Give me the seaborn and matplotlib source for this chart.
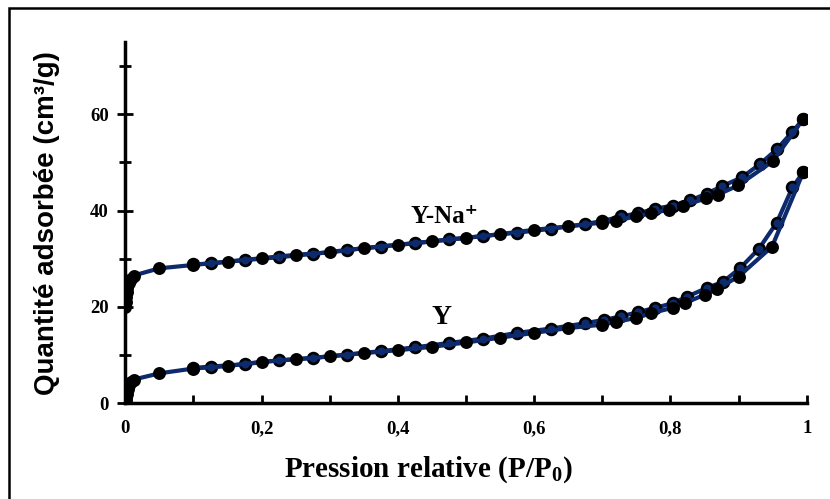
import numpy as np
import matplotlib
matplotlib.use("Agg")
import matplotlib.pyplot as plt
import seaborn as sns
from matplotlib.patches import Rectangle

# Y-Na+ : adsorption (filled) / desorption (open)
ads_na_x = [0, 0.0005, 0.001, 0.002, 0.003, 0.005, 0.008, 0.012, 0.05, 0.10, 0.15, 0.20,
            0.25, 0.30, 0.35, 0.40, 0.45, 0.50, 0.55, 0.60, 0.65, 0.70, 0.72, 0.75, 0.772,
            0.798, 0.818, 0.852, 0.87, 0.899, 0.95, 0.995]
ads_na_y = [20.0, 21.0, 22.0, 23.0, 24.0, 25.0, 25.8, 26.5, 28.0, 28.7, 29.4, 30.1,
            30.8, 31.3, 32.2, 32.9, 33.6, 34.3, 35.1, 36.0, 36.7, 37.5, 37.9, 38.8, 39.4,
            40.2, 41.0, 42.5, 43.3, 45.2, 50.2, 59.0]
des_na_x = [0.995, 0.978, 0.956, 0.931, 0.905, 0.875, 0.853, 0.829, 0.803, 0.778, 0.752,
            0.728, 0.70, 0.675, 0.625, 0.575, 0.525, 0.475, 0.425, 0.375, 0.325, 0.275,
            0.225, 0.175, 0.125, 0.10]
des_na_y = [59.0, 56.2, 52.7, 49.6, 46.9, 45.0, 43.5, 42.1, 41.0, 40.4, 39.4,
            38.8, 37.8, 37.2, 36.2, 35.4, 34.7, 34.0, 33.2, 32.5, 31.8, 31.0,
            30.3, 29.7, 29.0, 28.8]

# Y : adsorption (filled) / desorption (open)
ads_y_x = [0, 0.0005, 0.001, 0.002, 0.004, 0.006, 0.009, 0.012, 0.05, 0.10, 0.15, 0.20,
           0.25, 0.30, 0.35, 0.40, 0.45, 0.50, 0.55, 0.60, 0.65, 0.70, 0.72, 0.75, 0.772,
           0.803, 0.821, 0.85, 0.868, 0.90, 0.949, 0.995]
ads_y_y = [0.0, 0.6, 1.2, 2.0, 2.9, 3.7, 4.4, 4.9, 6.2, 7.2, 7.7, 8.6,
           9.1, 9.7, 10.4, 11.0, 11.7, 12.6, 13.6, 14.6, 15.6, 16.3, 16.9, 17.7, 18.7,
           19.8, 20.8, 22.5, 23.7, 26.3, 32.5, 48.0]
des_y_x = [0.995, 0.979, 0.956, 0.930, 0.902, 0.877, 0.853, 0.824, 0.804, 0.778, 0.752,
           0.727, 0.702, 0.675, 0.625, 0.575, 0.525, 0.475, 0.425, 0.375, 0.325, 0.275,
           0.225, 0.175, 0.125, 0.10]
des_y_y = [48.0, 44.8, 37.5, 32.1, 28.0, 25.2, 23.9, 22.1, 20.8, 19.8, 18.9,
           18.0, 17.3, 16.6, 15.5, 14.6, 13.4, 12.5, 11.6, 10.8, 10.1, 9.4,
           8.9, 8.1, 7.6, 7.3]

x_ticks = [0, 0.1, 0.2, 0.3, 0.4, 0.5, 0.6, 0.7, 0.8, 0.9, 1.0]
x_labels = ["0", "", "0,2", "", "0,4", "", "0,6", "", "0,8", "", "1"]
y_ticks = [0, 20, 40, 60]

sns.set_style("ticks")
plt.rcParams["font.family"] = ["Liberation Serif", "DejaVu Serif"]
plt.rcParams["font.weight"] = "bold"
plt.rcParams["text.color"] = "black"
plt.rcParams["axes.labelcolor"] = "black"
plt.rcParams["xtick.color"] = "black"
plt.rcParams["ytick.color"] = "black"
plt.rcParams["mathtext.fontset"] = "custom"
plt.rcParams["mathtext.rm"] = "Liberation Serif:bold"
plt.rcParams["mathtext.it"] = "Liberation Serif:bold"
plt.rcParams["mathtext.bf"] = "Liberation Serif:bold"

navy = "#0c2a6c"

fig = plt.figure(figsize=(8.3, 4.99), dpi=100)
ax = fig.add_axes([0.151, 0.192, 0.821, 0.724])

for xs, ys in [(des_na_x, des_na_y), (des_y_x, des_y_y)]:
    sns.lineplot(x=xs, y=ys, sort=False, estimator=None, ax=ax, color=navy, lw=3,
                 marker="o", markersize=7.8, markerfacecolor=navy,
                 markeredgecolor="black", markeredgewidth=1.9, zorder=3)
for xs, ys in [(ads_na_x, ads_na_y), (ads_y_x, ads_y_y)]:
    sns.lineplot(x=xs, y=ys, sort=False, estimator=None, ax=ax, color=navy, lw=3,
                 marker="o", markersize=7.8, markerfacecolor="black",
                 markeredgecolor="black", markeredgewidth=1.5, zorder=4)

ax.set_xlim(0, 1)
ax.set_ylim(0, 75)
ax.set_xticks(x_ticks)
ax.set_xticklabels(x_labels, fontsize=13.5, fontweight="bold")
ax.set_yticks(y_ticks)
ax.set_yticklabels([str(v) for v in y_ticks], fontsize=13.5, fontweight="bold")
ax.set_yticks([10, 30, 50, 70], minor=True)
ax.tick_params(axis="x", direction="in", length=6, width=2, pad=12)
ax.tick_params(axis="y", which="major", direction="inout", length=12, width=2, pad=6)
ax.tick_params(axis="y", which="minor", direction="inout", length=9, width=2)

sns.despine(ax=ax)
for s in ["left", "bottom"]:
    ax.spines[s].set_linewidth(2.5)
    ax.spines[s].set_color("black")

fig.text(428 / 830, 1 - 470 / 499, "Pression relative (P/P$_0$)", fontsize=21,
         fontweight="bold", ha="center", va="center")
fig.text(47 / 830, 1 - 223 / 499, "Quantité adsorbée (cm³/g)", fontsize=20,
         fontweight="bold", family=["Liberation Sans", "DejaVu Sans"],
         rotation=90, ha="center", va="center")

ax.text(0.469, 38.8, "Y-Na⁺", fontsize=18, fontweight="bold", ha="center", va="center",
        family=["Liberation Serif", "DejaVu Serif"])
ax.text(0.464, 17.7, "Y", fontsize=20, fontweight="bold", ha="center", va="center")

fig.patches.append(Rectangle((0.011, -0.05), 1.1, 1.034, transform=fig.transFigure,
                             fill=False, edgecolor="black", lw=1.8))

fig.savefig("out.png", dpi=100)
